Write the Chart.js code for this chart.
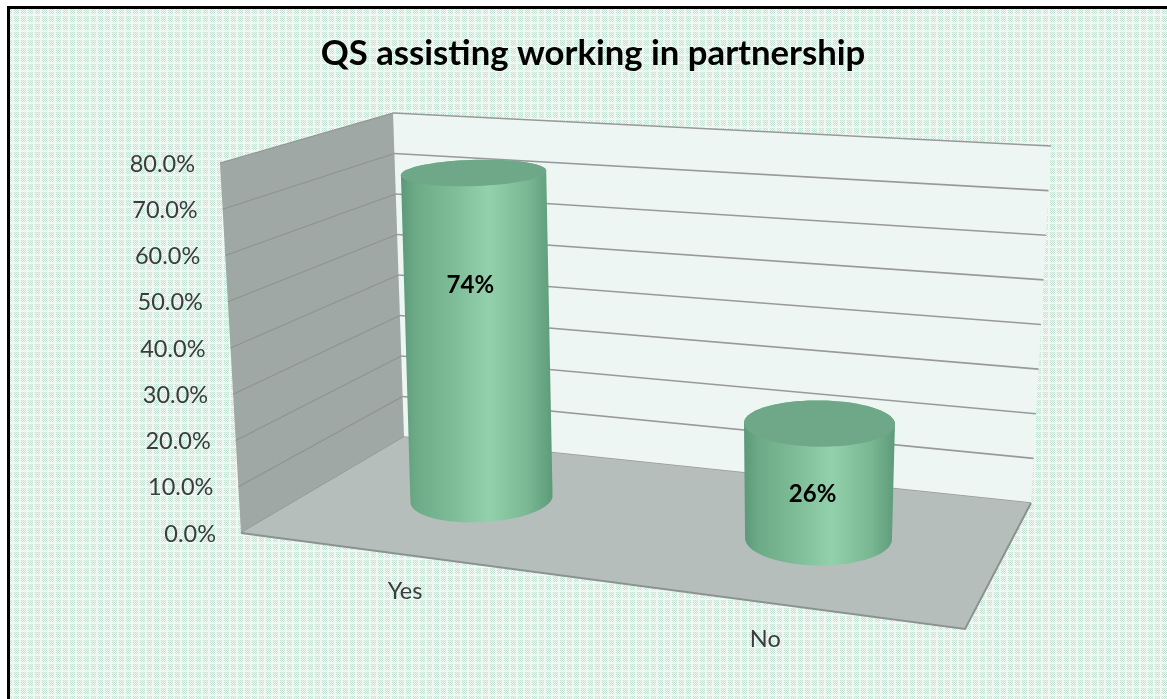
<!DOCTYPE html>
<html>
<head>
<meta charset="utf-8">
<title>QS assisting working in partnership</title>
<script src="https://cdn.jsdelivr.net/npm/chart.js@4"></script>
<style>
    html, body { margin: 0; padding: 0; background: #fff; }
    #chart-wrap { position: relative; width: 1167px; height: 699px; overflow: hidden; }
</style>
</head>
<body>
<div id="chart-wrap"><canvas id="qsChart" width="1167" height="699"></canvas></div>
<script>
const categories = ['Yes', 'No'];
const shares = [74, 26];
const tickLabels = ['0.0%', '10.0%', '20.0%', '30.0%', '40.0%', '50.0%', '60.0%', '70.0%', '80.0%'];
const valueLabels = ['74%', '26%'];

// Box corners on the page: floor and ceiling quads, back-left first, going round
const floorQuad = [[404, 437], [1031, 503], [965, 629], [241, 533]];
const ceilQuad = [[393, 113], [1051, 146], [985, 218], [220, 163]];

// Depth of the cylinder axis inside the box (0 = back wall, 1 = front edge)
const barDepth = 0.49;
const depthRadius = 0.22;
// How far up each cylinder its value label sits
const labelLift = [0.65, 0.36];

const FONT = 'Lato, Carlito, Calibri, sans-serif';

function makeHomography(q) {
    const [[x0, y0], [x1, y1], [x2, y2], [x3, y3]] = q;
    const dx1 = x1 - x2, dx2 = x3 - x2, sx = x0 - x1 + x2 - x3;
    const dy1 = y1 - y2, dy2 = y3 - y2, sy = y0 - y1 + y2 - y3;
    const det = dx1 * dy2 - dx2 * dy1;
    const g = (sx * dy2 - dx2 * sy) / det;
    const h = (dx1 * sy - sx * dy1) / det;
    const a = x1 - x0 + g * x1, b = x3 - x0 + h * x3;
    const d = y1 - y0 + g * y1, e = y3 - y0 + h * y3;
    return (u, w) => {
        const z = g * u + h * w + 1;
        return [(a * u + b * w + x0) / z, (d * u + e * w + y0) / z];
    };
}

const floorMap = makeHomography(floorQuad);
const ceilMap = makeHomography(ceilQuad);

// u across the categories, t up the value axis, w from back to front
function project(u, t, w) {
    const f = floorMap(u, w);
    const c = ceilMap(u, w);
    return [f[0] + (c[0] - f[0]) * t, f[1] + (c[1] - f[1]) * t];
}

function fillPoly(ctx, pts, color) {
    ctx.beginPath();
    pts.forEach((p, i) => (i ? ctx.lineTo(p[0], p[1]) : ctx.moveTo(p[0], p[1])));
    ctx.closePath();
    ctx.fillStyle = color;
    ctx.fill();
}

function strokeLine(ctx, pts, color, width) {
    ctx.beginPath();
    pts.forEach((p, i) => (i ? ctx.lineTo(p[0], p[1]) : ctx.moveTo(p[0], p[1])));
    ctx.strokeStyle = color;
    ctx.lineWidth = width;
    ctx.stroke();
}

function convexHull(points) {
    const pts = points.slice().sort((a, b) => a[0] - b[0] || a[1] - b[1]);
    const cross = (o, a, b) => (a[0] - o[0]) * (b[1] - o[1]) - (a[1] - o[1]) * (b[0] - o[0]);
    const build = list => {
        const out = [];
        list.forEach(p => {
            while (out.length > 1 && cross(out[out.length - 2], out[out.length - 1], p) <= 0) out.pop();
            out.push(p);
        });
        out.pop();
        return out;
    };
    return build(pts).concat(build(pts.reverse()));
}

// Cylinder axis: straighter than the box corners, nudged toward the box centre
function cylinderAxisU(u, level) {
    return u + 0.0165 - 0.01 * u - 0.016 * (1 - u) * (1 - level);
}

// Bars come out as cylinders standing on the floor of the box
class CylinderController extends Chart.BarController {
    draw() {
        const ctx = this.chart.ctx;
        const area = this.chart.chartArea;
        this.getMeta().data.forEach(bar => {
            const u = (bar.x - area.left) / area.width;
            // slight foreshortening of the height away from the floor
            const t = Math.pow((bar.base - bar.y) / area.height, 1.045);
            const ru = bar.width / area.width / 2 * (0.999 - 0.092 * u);
            const ring = level => {
                const pts = [];
                for (let i = 0; i < 72; i++) {
                    const a = i / 72 * Math.PI * 2;
                    pts.push(project(cylinderAxisU(u, level) + ru * Math.cos(a), level, barDepth + depthRadius * Math.sin(a)));
                }
                return pts;
            };
            const base = ring(0);
            const top = ring(t);
            const hull = convexHull(base.concat(top));
            const xs = hull.map(p => p[0]);
            const left = Math.min(...xs), right = Math.max(...xs);

            const grad = ctx.createLinearGradient(left, 0, right, 0);
            grad.addColorStop(0, '#5b9877');
            grad.addColorStop(0.1, '#6dab88');
            grad.addColorStop(0.35, '#7fbd98');
            grad.addColorStop(0.58, '#93d1ac');
            grad.addColorStop(0.85, '#78b692');
            grad.addColorStop(1, '#5c9a79');

            ctx.save();
            fillPoly(ctx, hull, grad);
            fillPoly(ctx, top, '#6fa888');
            ctx.restore();
        });
    }
}
CylinderController.id = 'cylinder';
CylinderController.defaults = Chart.BarController.defaults;
CylinderController.overrides = Chart.BarController.overrides;
Chart.register(CylinderController);

// Dotted green paper behind everything, plus the dark frame on top and left
function makeDotTile() {
    const tile = document.createElement('canvas');
    tile.width = 7;
    tile.height = 8;
    const t = tile.getContext('2d');
    for (let y = 0; y < 8; y++) {
        for (let x = 0; x < 7; x++) {
            const dot = (x + y) % 2 === 0;
            const pale = x >= 5 || y >= 6;
            t.fillStyle = dot ? (pale ? '#e4f3ec' : '#bfe3d0') : (pale ? '#f8fcfa' : '#eef8f3');
            t.fillRect(x, y, 1, 1);
        }
    }
    return tile;
}

const paperPlugin = {
    id: 'paper',
    beforeDraw(chart) {
        const ctx = chart.ctx;
        ctx.save();
        ctx.fillStyle = '#ffffff';
        ctx.fillRect(0, 0, chart.width, chart.height);
        ctx.fillStyle = ctx.createPattern(makeDotTile(), 'repeat');
        ctx.fillRect(10, 9, chart.width - 10, chart.height - 9);
        ctx.fillStyle = '#000000';
        ctx.fillRect(7, 6, chart.width - 7, 3);
        ctx.fillRect(7, 6, 3, chart.height - 6);
        ctx.restore();
    }
};

// Walls, floor, gridlines and axis text, all placed from the scale ticks
const boxPlugin = {
    id: 'box',
    beforeDatasetsDraw(chart) {
        const ctx = chart.ctx;
        const yScale = chart.scales.y;
        const area = chart.chartArea;
        const tOf = value => (area.bottom - yScale.getPixelForValue(value)) / area.height;

        ctx.save();
        fillPoly(ctx, [project(0, 0, 0), project(1, 0, 0), project(1, 1, 0), project(0, 1, 0)], '#eef6f4');
        fillPoly(ctx, [project(0, 0, 0), project(0, 1, 0), project(0, 1, 1), project(0, 0, 1)], '#9fa8a4');

        yScale.ticks.forEach(tick => {
            const t = tOf(tick.value);
            strokeLine(ctx, [project(0, t, 1), project(0, t, 0)], '#8f9391', 1.3);
            strokeLine(ctx, [project(0, t, 0), project(1, t, 0)], '#98999b', 1.6);
        });

        fillPoly(ctx, floorQuad, '#b5bebb');
        strokeLine(ctx, [floorQuad[3], floorQuad[2], floorQuad[1]], '#8b9391', 2);

        ctx.font = '23.5px ' + FONT;
        ctx.fillStyle = '#3a3d3e';
        ctx.textAlign = 'right';
        ctx.textBaseline = 'middle';
        yScale.ticks.forEach(tick => {
            const p = project(0, tOf(tick.value), 1);
            ctx.fillText(tick.label, p[0] - 25, p[1] + 1);
        });

        ctx.textAlign = 'center';
        chart.getDatasetMeta(0).data.forEach((bar, i) => {
            const u = (bar.x - area.left) / area.width;
            const p = floorMap(u, 1);
            ctx.fillText(categories[i], p[0] + 4, p[1] + 37);
        });
        ctx.restore();
    },
    afterDatasetsDraw(chart) {
        const ctx = chart.ctx;
        const area = chart.chartArea;
        ctx.save();
        ctx.font = 'bold 24px ' + FONT;
        ctx.fillStyle = '#000000';
        ctx.textAlign = 'center';
        ctx.textBaseline = 'middle';
        chart.getDatasetMeta(0).data.forEach((bar, i) => {
            const u = (bar.x - area.left) / area.width;
            const t = (bar.base - bar.y) / area.height;
            const level = t * labelLift[i];
            const p = project(cylinderAxisU(u, level), level, barDepth);
            ctx.fillText(valueLabels[i], p[0] - 6, p[1]);
        });
        ctx.restore();
    }
};

new Chart(document.getElementById('qsChart'), {
    type: 'cylinder',
    data: {
        labels: categories,
        datasets: [{
            label: 'QS assisting working in partnership',
            data: shares,
            categoryPercentage: 1,
            barPercentage: 0.42
        }]
    },
    options: {
        responsive: false,
        animation: false,
        events: [],
        layout: { padding: { left: 60, right: 41, top: 0, bottom: 40 } },
        plugins: {
            legend: { display: false },
            tooltip: { enabled: false },
            title: {
                display: true,
                text: 'QS assisting working in partnership',
                color: '#000000',
                font: { family: FONT, size: 34.7, weight: 'bold' },
                padding: { top: 33, bottom: 20 }
            }
        },
        scales: {
            x: { type: 'category', display: false },
            y: {
                type: 'linear',
                display: false,
                min: 0,
                max: 80,
                ticks: {
                    stepSize: 10,
                    callback: value => tickLabels[value / 10]
                }
            }
        }
    },
    plugins: [paperPlugin, boxPlugin]
});
</script>
</body>
</html>
